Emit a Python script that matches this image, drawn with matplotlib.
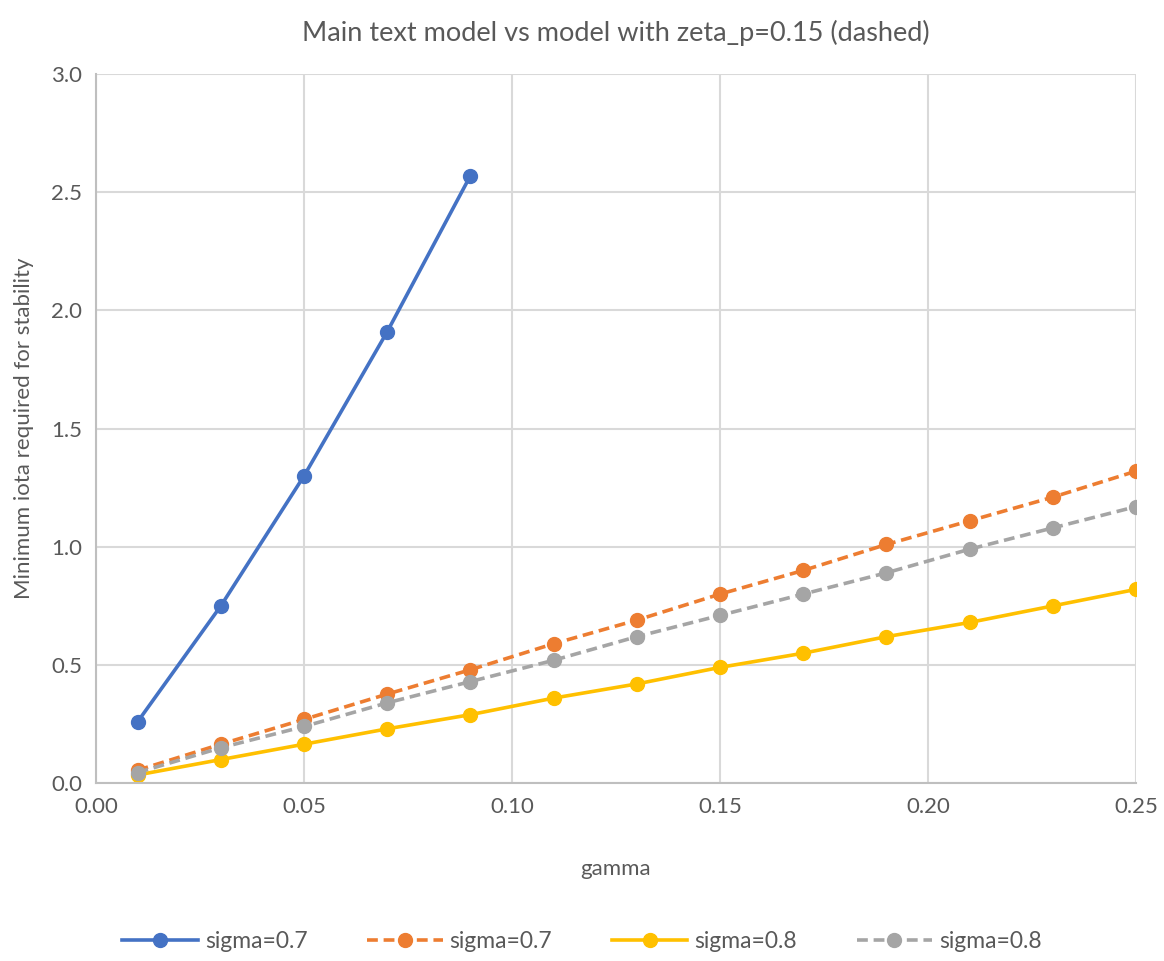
import matplotlib
matplotlib.use("Agg")
import matplotlib.pyplot as plt
import numpy as np

plt.rcParams['font.family'] = ['Lato', 'DejaVu Sans']

gamma = [0.01, 0.03, 0.05, 0.07, 0.09, 0.11, 0.13, 0.15, 0.17, 0.19, 0.21, 0.23, 0.25]
gamma_blue = gamma[:5]

s07_main = [0.26, 0.75, 1.30, 1.91, 2.57]
s07_zeta = [0.055, 0.165, 0.27, 0.377, 0.48, 0.59, 0.69, 0.80, 0.90, 1.01, 1.11, 1.21, 1.32]
s08_main = [0.035, 0.10, 0.165, 0.23, 0.29, 0.36, 0.42, 0.49, 0.55, 0.62, 0.68, 0.75, 0.82]
s08_zeta = [0.045, 0.15, 0.24, 0.34, 0.43, 0.52, 0.62, 0.71, 0.80, 0.89, 0.99, 1.08, 1.17]

txt = '#595959'
fig = plt.figure(figsize=(11.64, 9.61), dpi=100)
ax = fig.add_axes([0.0825, 0.185, 0.8935, 0.738])

ax.plot(gamma_blue, s07_main, color='#4472C4', lw=2.6, marker='o', ms=10, label='sigma=0.7')
ax.plot(gamma, s07_zeta, color='#ED7D31', lw=2.6, ls=(0, (3, 1.6)), marker='o', ms=10, label='sigma=0.7')
ax.plot(gamma, s08_main, color='#FFC000', lw=2.6, marker='o', ms=10, label='sigma=0.8')
ax.plot(gamma, s08_zeta, color='#A5A5A5', lw=2.6, ls=(0, (3, 1.6)), marker='o', ms=10, label='sigma=0.8')

ax.set_xlim(0, 0.25)
ax.set_ylim(0, 3.0)
ax.set_xticks(np.arange(0, 0.2501, 0.05))
ax.set_yticks(np.arange(0, 3.01, 0.5))
ax.xaxis.set_major_formatter(matplotlib.ticker.FormatStrFormatter('%.2f'))
ax.yaxis.set_major_formatter(matplotlib.ticker.FormatStrFormatter('%.1f'))
ax.grid(True, color='#d9d9d9', lw=1.5)
ax.set_axisbelow(True)
for s in ['top', 'right']:
    ax.spines[s].set_visible(False)
for s in ['left', 'bottom']:
    ax.spines[s].set_color('#bfbfbf')
    ax.spines[s].set_linewidth(1.5)
ax.tick_params(length=0, labelsize=16, colors=txt, pad=10)

ax.set_title('Main text model vs model with zeta_p=0.15 (dashed)', fontsize=19.5, color=txt, pad=24)
ax.set_xlabel('gamma', fontsize=16, color=txt, labelpad=30)
ax.set_ylabel('Minimum iota required for stability', fontsize=16, color=txt, labelpad=12)

leg = fig.legend(loc='center', bbox_to_anchor=(0.5, 0.02), ncol=4, frameon=False,
                 fontsize=16.5, handlelength=3.3, columnspacing=2.6, handletextpad=0.3)
for t in leg.get_texts():
    t.set_color(txt)

fig.savefig('out.png', dpi=100)
